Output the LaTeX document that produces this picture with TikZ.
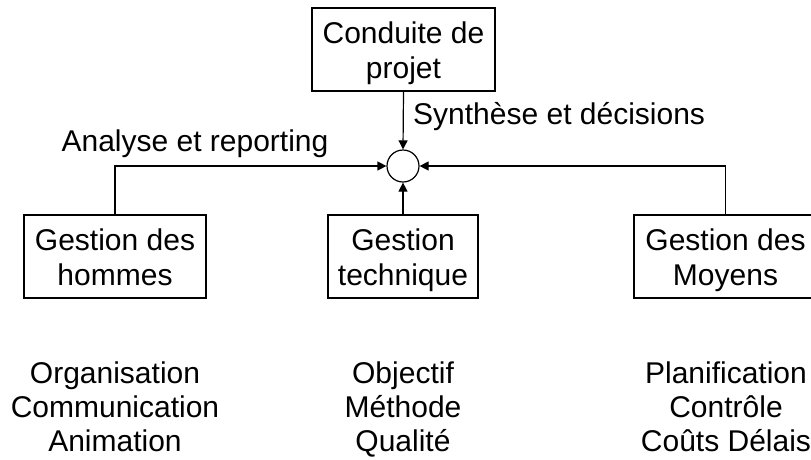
\documentclass[tikz,border=0pt]{standalone}
\usepackage{fontspec}
\setmainfont{Liberation Sans}
\usetikzlibrary{arrows.meta}
\begin{document}
\begin{tikzpicture}[x=1pt,y=-1pt,
  every node/.style={font=\fontsize{30}{35}\selectfont, inner sep=0pt},
  box/.style={draw, line width=1.2pt, align=center, inner sep=0pt,
    text height=62pt, text depth=5pt, minimum height=83pt},
  conn/.style={line width=1.2pt, -{Triangle[length=9pt,width=9pt]}},
  lbl/.style={align=center, anchor=base, font=\fontsize{30}{34}\selectfont}]
\useasboundingbox (0,0) rectangle (811,459);
\fill[white] (0,0) rectangle (811,459);
\node[box, minimum width=183pt] (cp) at (403.5,49.5) {Conduite de\\projet};
\node[draw, circle, line width=1.2pt, minimum size=32pt, inner sep=0pt] (c) at (403,166) {};
\node[box, minimum width=182pt] (gh) at (115,256.5) {Gestion des\\hommes};
\node[box, minimum width=150pt] (gt) at (403,256.5) {Gestion\\technique};
\node[box, minimum width=183pt] (gm) at (725.5,256.5) {Gestion des\\Moyens};
\coordinate (lh) at (gh.north |- c.west);
\coordinate (rm) at (gm.north |- c.east);
\draw[conn] (cp.south) -- (c.north);
\draw[conn] (gt.north) -- (c.south);
\draw[conn] (gh.north) -- (lh) -- (c.west);
\draw[conn] (gm.north) -- (rm) -- (c.east);
\node[anchor=base west] (syn) at (413,124) {Synthèse et décisions};
\node[anchor=base] (ana) at (195,151) {Analyse et reporting};
\node[lbl] (t1) at (115,451) {Organisation\\Communication\\Animation};
\node[lbl] (t2) at (403,451) {Objectif\\Méthode\\Qualité};
\node[lbl] (t3) at (726,451) {Planification\\Contrôle\\Coûts Délais};
\end{tikzpicture}
\end{document}
